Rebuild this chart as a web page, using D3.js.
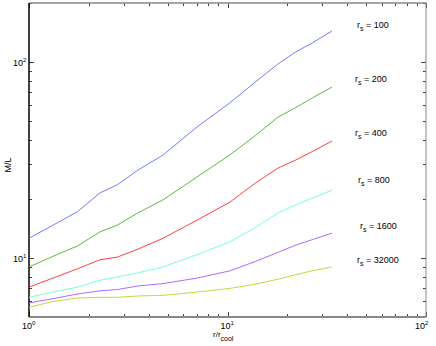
<!DOCTYPE html>
<html>
<head>
<meta charset="utf-8">
<script src="https://cdn.jsdelivr.net/npm/d3@7.9.0/dist/d3.min.js"></script>
<style>
  html, body { margin: 0; padding: 0; background: #fff; }
  svg { display: block; font-family: "Liberation Sans", Arial, sans-serif; }
</style>
</head>
<body>
<svg id="chart" width="436" height="346"></svg>
<script>
// r / r_cool sample points
var radii = [1.0, 1.32, 1.75, 2.28, 2.78, 3.54, 4.73, 7.02, 10.3, 13.8, 18.0, 21.9, 26.7, 33.6];

// M/L for each scale radius r_s
var ml100   = [12.6, 14.7, 17.2, 21.5, 23.6, 28.1, 33.5, 46.6, 62.0, 79.0, 98.0, 112, 125, 144];
var ml200   = [9.0, 10.2, 11.5, 13.6, 14.7, 17.0, 19.8, 25.9, 33.6, 42.1, 52.4, 58.3, 65.5, 74.5];
var ml400   = [7.1, 7.9, 8.8, 9.8, 10.1, 11.1, 12.6, 15.6, 19.3, 24.1, 28.8, 31.5, 34.9, 39.5];
var ml800   = [6.3, 6.7, 7.1, 7.7, 8.0, 8.4, 9.0, 10.4, 12.1, 14.3, 17.0, 18.6, 20.2, 22.2];
var ml1600  = [5.9, 6.2, 6.55, 6.8, 6.9, 7.2, 7.4, 7.9, 8.6, 9.6, 10.7, 11.6, 12.4, 13.4];
var ml32000 = [5.6, 6.0, 6.25, 6.3, 6.3, 6.4, 6.45, 6.7, 7.0, 7.35, 7.8, 8.2, 8.6, 9.0];

var seriesNames = ["100", "200", "400", "800", "1600", "32000"];
var seriesData  = [ml100, ml200, ml400, ml800, ml1600, ml32000];
var colors = ["#6f7dff", "#5bbb3f", "#ff4242", "#74ffd2", "#b368ff", "#c9d83c"];

var xTicks = [1, 10, 100];
var yTicks = [10, 100];

var svg = d3.select("#chart");
var L = 29, R = 426, T = 3, B = 317;

var x = d3.scaleLog().domain([1, 100]).range([L, R]);
var y = d3.scaleLog().domain([5, 200]).range([B, T]);

// minor tick positions (every integer multiple within a decade)
function minorTicks(dom) {
  var out = [];
  for (var e = -1; e <= 3; e++) {
    for (var k = 1; k < 10; k++) {
      var v = k * Math.pow(10, e);
      if (v >= dom[0] - 1e-9 && v <= dom[1] + 1e-9) out.push(v);
    }
  }
  return out;
}

var ticksG = svg.append("g").attr("stroke", "#444").attr("stroke-width", 1);
minorTicks(x.domain()).forEach(function (v) {
  var px = Math.round(x(v)) + 0.5;
  var len = xTicks.indexOf(v) >= 0 ? 5 : 3;
  ticksG.append("line").attr("x1", px).attr("x2", px).attr("y1", B).attr("y2", B - len);
  ticksG.append("line").attr("x1", px).attr("x2", px).attr("y1", T).attr("y2", T + len);
});
minorTicks(y.domain()).forEach(function (v) {
  var py = Math.round(y(v)) + 0.5;
  var len = yTicks.indexOf(v) >= 0 ? 5 : 3;
  ticksG.append("line").attr("x1", L).attr("x2", L + len).attr("y1", py).attr("y2", py);
  ticksG.append("line").attr("x1", R).attr("x2", R - len).attr("y1", py).attr("y2", py);
});

// frame
svg.append("line").attr("x1", L).attr("x2", R).attr("y1", T).attr("y2", T)
  .attr("stroke", "#888").attr("stroke-width", 1.5);
svg.append("line").attr("x1", R).attr("x2", R).attr("y1", T).attr("y2", B)
  .attr("stroke", "#888").attr("stroke-width", 1);
svg.append("line").attr("x1", L).attr("x2", R).attr("y1", B).attr("y2", B)
  .attr("stroke", "#888").attr("stroke-width", 2);
svg.append("line").attr("x1", L).attr("x2", L).attr("y1", T).attr("y2", B)
  .attr("stroke", "#000").attr("stroke-width", 1.5);

// curves
var line = d3.line()
  .x(function (d) { return x(d[0]); })
  .y(function (d) { return y(d[1]); });

seriesData.forEach(function (vals, i) {
  svg.append("path")
    .datum(radii.map(function (r, j) { return [r, vals[j]]; }))
    .attr("fill", "none")
    .attr("stroke", colors[i])
    .attr("stroke-width", 1)
    .attr("d", line);
});

// series labels
var labelY = [28, 82, 136, 183, 229, 263];
var labelX = [357, 355, 355, 358, 360, 357];
seriesNames.forEach(function (n, i) {
  var t = svg.append("text")
    .attr("x", labelX[i]).attr("y", labelY[i])
    .attr("font-size", "9px").attr("fill", "#000");
  t.append("tspan").text("r");
  t.append("tspan").attr("font-size", "7px").attr("dy", 3).text("s");
  t.append("tspan").attr("dy", -3).text(" = " + n);
});

// tick labels
function powLabel(sel, exp) {
  sel.append("tspan").text("10");
  sel.append("tspan").attr("font-size", "6px").attr("dy", -4).text(exp);
}
xTicks.forEach(function (v, i) {
  var t = svg.append("text")
    .attr("x", x(v) - (i === 2 ? 11 : 7)).attr("y", 329)
    .attr("font-size", "9px").attr("fill", "#000");
  powLabel(t, String(Math.round(Math.log10(v))));
});
yTicks.forEach(function (v) {
  var t = svg.append("text")
    .attr("x", 13).attr("y", y(v) + 4)
    .attr("font-size", "9px").attr("fill", "#000");
  powLabel(t, String(Math.round(Math.log10(v))));
});

// axis titles
var xt = svg.append("text")
  .attr("x", 213).attr("y", 337)
  .attr("font-size", "8px").attr("fill", "#000");
xt.append("tspan").text("r/r");
xt.append("tspan").attr("font-size", "7px").attr("dy", 4).text("cool");

svg.append("text")
  .attr("transform", "translate(11,165) rotate(-90)")
  .attr("text-anchor", "middle")
  .attr("font-size", "9px").attr("fill", "#000")
  .text("M/L");
</script>
</body>
</html>
